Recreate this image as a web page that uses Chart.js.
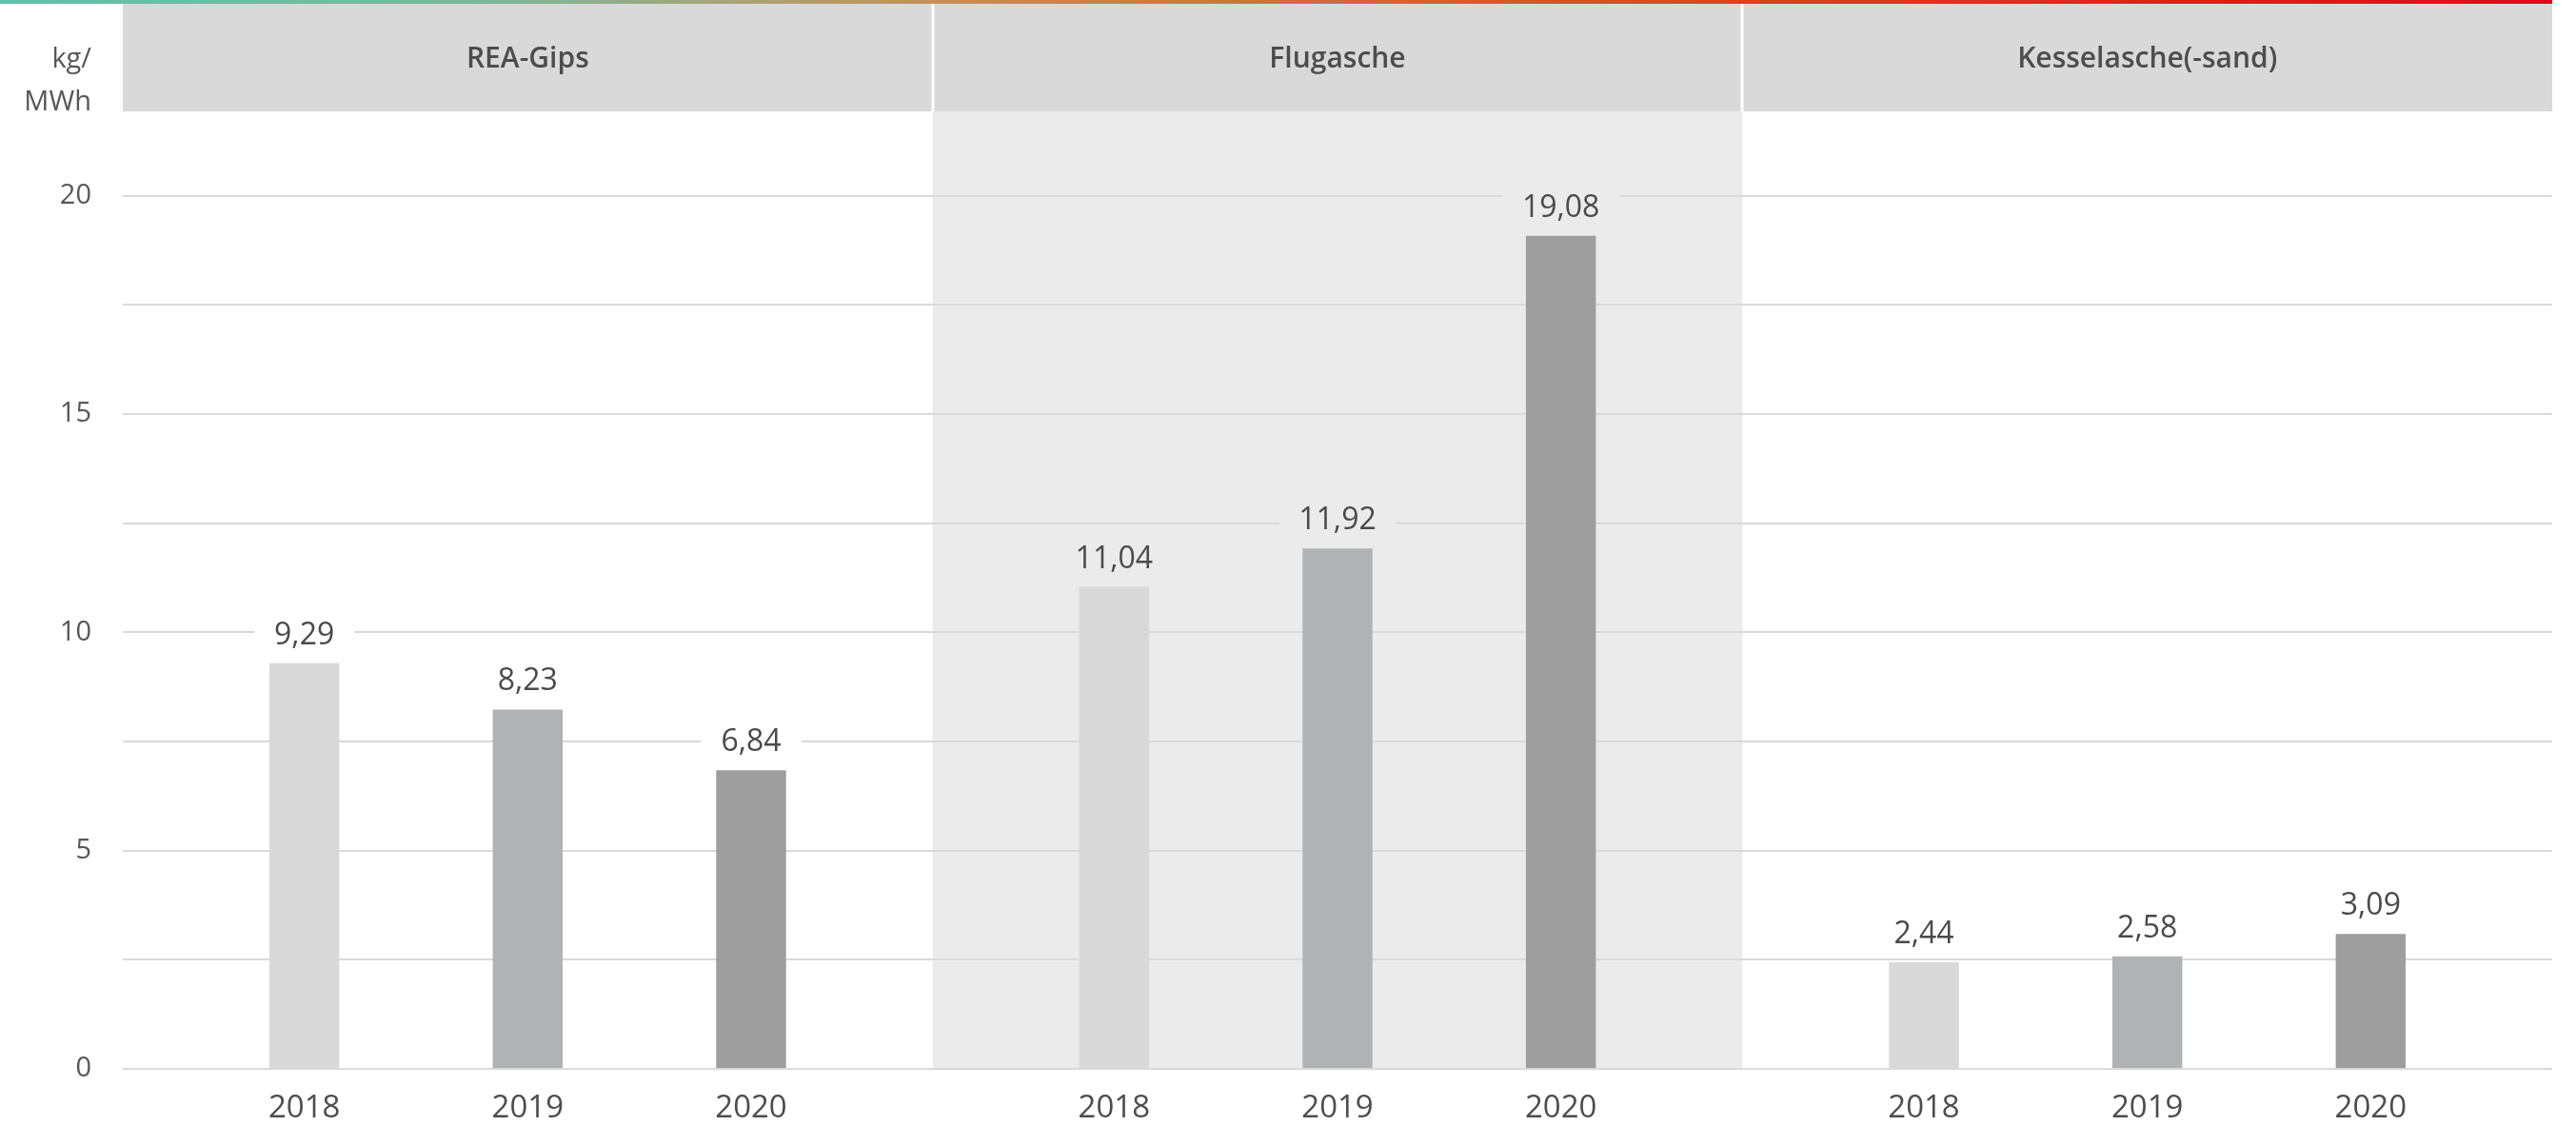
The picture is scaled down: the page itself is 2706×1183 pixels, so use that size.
<!DOCTYPE html>
<html>
<head>
<meta charset="utf-8">
<title>Nebenprodukte je MWh</title>
<script src="https://cdn.jsdelivr.net/npm/chart.js@4/dist/chart.umd.min.js"></script>
<style>
  html, body { margin: 0; padding: 0; background: #ffffff; }
  #wrap { width: 2706px; height: 1183px; }
  canvas { display: block; }
</style>
</head>
<body>
<div id="wrap"><canvas id="chart" width="2706" height="1183"></canvas></div>
<script>
// Materials (one panel each) and reporting years (one bar per year)
const materials = ['REA-Gips', 'Flugasche', 'Kesselasche(-sand)'];
const years = ['2018', '2019', '2020'];

// kg per MWh, ordered like `materials`
const values2018 = [9.29, 11.04, 2.44];
const values2019 = [8.23, 11.92, 2.58];
const values2020 = [6.84, 19.08, 3.09];

// Gridlines every 2.5, labelled every 5
const yTicks = [0, 2.5, 5, 7.5, 10, 12.5, 15, 17.5, 20];
const yMax = 21.93;
const unitLines = ['kg/', 'MWh'];

const barColors = ['#d9d9d9', '#b1b2b3', '#9d9e9d'];
const shadedPanel = 1;
const FONT = '"Open Sans", "Noto Sans", sans-serif';

const fmt = v => v.toFixed(2).replace('.', ',');

const panelDecor = {
  id: 'panelDecor',
  beforeDraw(chart) {
    const { ctx, chartArea: a, scales: { x } } = chart;
    const cw = (a.right - a.left) / materials.length;
    ctx.save();

    // shaded background of the middle panel
    ctx.fillStyle = '#ebebeb';
    ctx.fillRect(a.left + cw * shadedPanel, a.top, cw, a.bottom - a.top);

    // header band
    ctx.fillStyle = '#d9d9d9';
    ctx.fillRect(a.left, 4, a.right - a.left, a.top - 4);

    // colour strip along the top edge
    const g = ctx.createLinearGradient(0, 0, a.right, 0);
    g.addColorStop(0.0, '#5fc1ab');
    g.addColorStop(0.2, '#7db898');
    g.addColorStop(0.3, '#b0a070');
    g.addColorStop(0.38, '#c88c55');
    g.addColorStop(0.52, '#d4683b');
    g.addColorStop(0.7, '#df3a24');
    g.addColorStop(1.0, '#e3071a');
    ctx.fillStyle = g;
    ctx.fillRect(0, 0, a.right, 4);

    // white separators between header cells
    ctx.fillStyle = '#ffffff';
    for (let i = 1; i < materials.length; i++) {
      ctx.fillRect(Math.round(a.left + cw * i) - 1.5, 4, 3, a.top - 4);
    }

    // header titles
    ctx.fillStyle = '#4d4d4d';
    ctx.font = `600 30px ${FONT}`;
    ctx.textAlign = 'center';
    ctx.textBaseline = 'alphabetic';
    materials.forEach((m, i) => ctx.fillText(m, x.getPixelForValue(i), 71));

    // unit label above the value axis
    ctx.fillStyle = '#575757';
    ctx.font = `29px ${FONT}`;
    ctx.textAlign = 'right';
    ctx.fillText(unitLines[0], 96, 71);
    ctx.fillText(unitLines[1], 96, 116);
    ctx.restore();
  },
  afterDatasetsDraw(chart) {
    const { ctx, chartArea: a } = chart;
    ctx.save();
    ctx.textAlign = 'center';
    ctx.textBaseline = 'alphabetic';
    chart.data.datasets.forEach((ds, di) => {
      const meta = chart.getDatasetMeta(di);
      meta.data.forEach((bar, i) => {
        const txt = fmt(ds.data[i]);
        // value label on a patch that interrupts the gridlines
        ctx.font = `32px ${FONT}`;
        const w = ctx.measureText(txt).width;
        const base = bar.y - 20;
        ctx.fillStyle = i === shadedPanel ? '#ebebeb' : '#ffffff';
        ctx.fillRect(bar.x - w / 2 - 21, base - 34, w + 42, 40);
        ctx.fillStyle = '#4a4a4a';
        ctx.fillText(txt, bar.x, base);

        // year under each bar
        ctx.font = `33px ${FONT}`;
        ctx.fillStyle = '#4d4d4d';
        ctx.fillText(ds.label, bar.x, a.bottom + 50.5);
      });
    });
    ctx.restore();
  }
};

const datasets = [values2018, values2019, values2020].map((vals, k) => ({
  label: years[k],
  data: vals,
  backgroundColor: barColors[k],
  borderWidth: 0,
  categoryPercentage: 0.8276,
  barPercentage: 0.313
}));

new Chart(document.getElementById('chart'), {
  type: 'bar',
  data: { labels: materials, datasets },
  options: {
    responsive: false,
    animation: false,
    devicePixelRatio: 1,
    layout: { padding: { top: 117, right: 25, bottom: 0, left: 0 } },
    plugins: { legend: { display: false }, tooltip: { enabled: false } },
    scales: {
      x: {
        grid: { display: false },
        border: { display: false },
        ticks: { display: false },
        afterFit(scale) { scale.height = 60; }
      },
      y: {
        min: 0,
        max: yMax,
        afterBuildTicks(scale) { scale.ticks = yTicks.map(v => ({ value: v })); },
        afterFit(scale) { scale.width = 129; },
        grid: { color: '#d9d9d9', lineWidth: 2, drawTicks: false },
        border: { display: false },
        ticks: {
          padding: 33,
          color: '#575757',
          font: { family: FONT, size: 29 },
          callback: v => (v % 5 === 0 ? String(v) : '')
        }
      }
    }
  },
  plugins: [panelDecor]
});
</script>
</body>
</html>
